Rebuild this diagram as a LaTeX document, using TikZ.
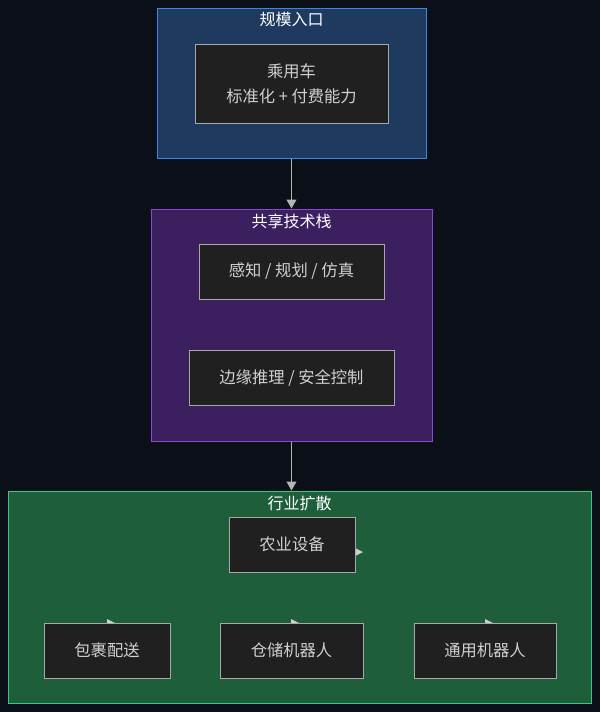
\documentclass[tikz,border=0pt]{standalone}
\usepackage{fontspec}
\setmainfont{Noto Sans CJK SC}
\usetikzlibrary{arrows.meta}

\definecolor{bgdark}{HTML}{0B0F17}
\definecolor{entryfill}{HTML}{1F3A5F}
\definecolor{entryline}{HTML}{3D86E6}
\definecolor{stackfill}{HTML}{3C1F5F}
\definecolor{stackline}{HTML}{8A45DA}
\definecolor{spreadfill}{HTML}{1E5E3B}
\definecolor{spreadline}{HTML}{3CCB7D}
\definecolor{boxfill}{HTML}{202020}
\definecolor{boxline}{HTML}{A8A8A8}
\definecolor{boxtext}{HTML}{D0D0D0}
\definecolor{arrowgray}{HTML}{B4B4B4}

\tikzset{
	grp/.style={draw, line width=1pt, inner sep=0pt},
	grptitle/.style={text=white, font=\fontsize{16}{19}\selectfont, inner sep=0pt},
	item/.style={draw=boxline, fill=boxfill, line width=1pt, text=boxtext,
		font=\fontsize{16.3}{25}\selectfont, align=center, inner sep=0pt,
		minimum height=55pt},
	flow/.style={draw=arrowgray, line width=1pt, -{Triangle[width=10pt,length=9pt]}},
	stub/.style={fill=boxtext}
}

\begin{document}
\begin{tikzpicture}[x=1pt, y=-1pt]
	% Hintergrund
	\fill[bgdark] (0,0) rectangle (600,712);
	% Gruppen
	\node[grp, draw=entryline, fill=entryfill, minimum width=269pt, minimum height=150pt] (entry) at (291.5, 83) {};
	\node[grp, draw=stackline, fill=stackfill, minimum width=281pt, minimum height=232pt] (stack) at (291.5, 325) {};
	\node[grp, draw=spreadline, fill=spreadfill, minimum width=583pt, minimum height=212pt] (spread) at (299.5, 597) {};
	% Titel
	\node[grptitle] (entrytitle) at (291.5, 19.5) {规模入口};
	\node[grptitle] (stacktitle) at (291.5, 221.5) {共享技术栈};
	\node[grptitle] (spreadtitle) at (299.5, 503.5) {行业扩散};
	% Pfeilspitzen
	\fill[stub] (355,548) -- (363,552) -- (355,556) -- cycle;
	\fill[stub] (107,619) -- (115,623) -- (107,627) -- cycle;
	\fill[stub] (291,619) -- (299,623) -- (291,627) -- cycle;
	\fill[stub] (485,619) -- (493,623) -- (485,627) -- cycle;
	% Knoten
	\node[item, minimum width=193pt, minimum height=79pt] (car) at (291.5, 83.5) {乘用车\\标准化 + 付费能力};
	\node[item, minimum width=185pt] (perception) at (291.5, 271.5) {感知 / 规划 / 仿真};
	\node[item, minimum width=205pt] (edge) at (291.5, 378) {边缘推理 / 安全控制};
	\node[item, minimum width=126pt] (farm) at (292, 544.5) {农业设备};
	\node[item, minimum width=126pt] (parcel) at (107, 650.5) {包裹配送};
	\node[item, minimum width=143pt] (warehouse) at (291.5, 650.5) {仓储机器人};
	\node[item, minimum width=142pt] (general) at (485, 650.5) {通用机器人};
	% Verbindungen
	\draw[flow] (entry.south) -- (stack.north);
	\draw[flow] (stack.south) -- (spread.north -| stack.south);
\end{tikzpicture}
\end{document}
